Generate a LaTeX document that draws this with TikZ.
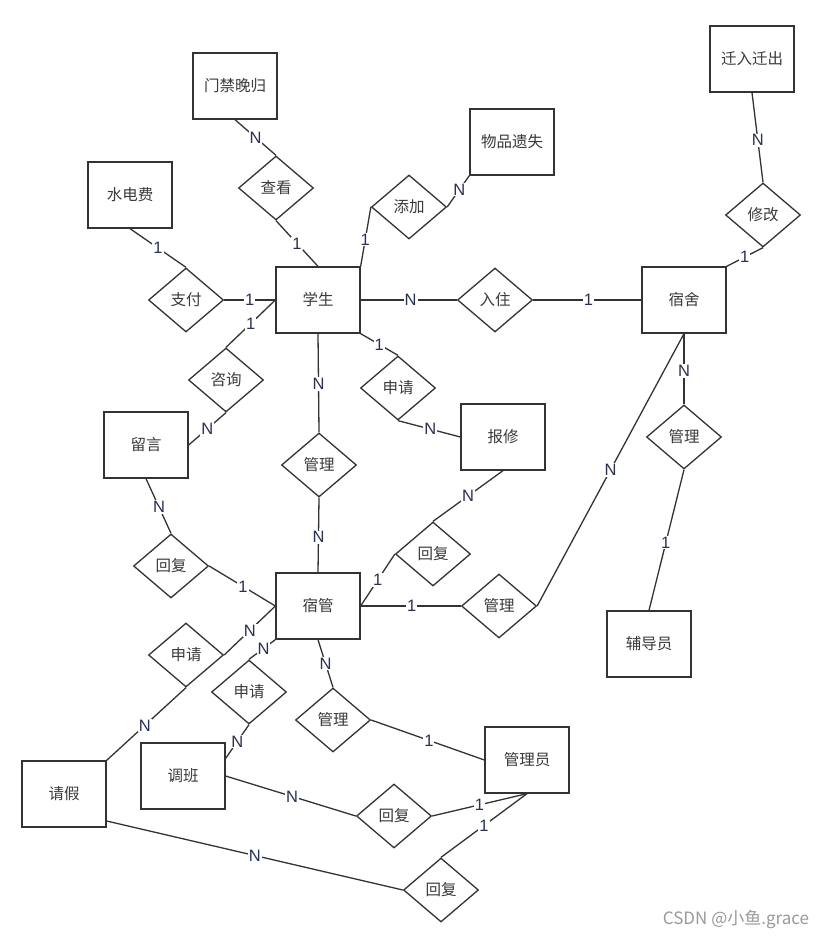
\documentclass[tikz,border=0pt]{standalone}
\usepackage{fontspec}
\setmainfont{Noto Sans CJK SC}
\newfontfamily\latinlbl{Liberation Sans}
\usetikzlibrary{shapes.geometric,calc}
\definecolor{linec}{HTML}{333333}
\definecolor{textc}{HTML}{3A3A3A}
\definecolor{lblc}{HTML}{2A3050}
\definecolor{wmc}{HTML}{9A9A9A}
\begin{document}
\begin{tikzpicture}[x=1pt,y=-1pt,
  ent/.style={rectangle,draw=linec,line width=1.3pt,minimum width=84pt,minimum height=66pt,inner sep=0pt,font=\fontsize{15.5}{17}\selectfont,text=textc},
  rel/.style={diamond,draw=linec,line width=1.3pt,minimum width=75pt,minimum height=64pt,inner sep=0pt,font=\fontsize{15.5}{17}\selectfont,text=textc},
  conn/.style={draw=linec,line width=1.3pt},
  lbl/.style={fill=white,inner sep=1pt,font=\latinlbl\fontsize{16.5}{17}\selectfont,text=lblc}]
\useasboundingbox[fill=white] (0,0) rectangle (825,939);

% entities
\node[ent] (mj) at (235,86) {门禁晚归};
\node[ent] (sdf) at (130,195) {水电费};
\node[ent] (xs) at (318,300) {学生};
\node[ent] (wp) at (512,142) {物品遗失};
\node[ent] (qr) at (752,59) {迁入迁出};
\node[ent] (ss) at (684,300) {宿舍};
\node[ent] (ly) at (146,445) {留言};
\node[ent] (sg) at (318,606) {宿管};
\node[ent] (bx) at (503,437) {报修};
\node[ent] (fdy) at (649,644) {辅导员};
\node[ent] (qj) at (64,794) {请假};
\node[ent] (tb) at (183,776) {调班};
\node[ent] (gly) at (527,760) {管理员};

% relationships
\node[rel] (ck) at (276,188) {查看};
\node[rel] (zf) at (186,300) {支付};
\node[rel] (tj) at (409,207) {添加};
\node[rel] (xg) at (763,215) {修改};
\node[rel] (rz) at (495,300) {入住};
\node[rel] (zx) at (226,380) {咨询};
\node[rel] (gl1) at (319,465) {管理};
\node[rel] (hf1) at (171,566) {回复};
\node[rel] (sq1) at (398,388) {申请};
\node[rel] (gl3) at (684,437) {管理};
\node[rel] (hf2) at (433,554) {回复};
\node[rel] (gl2) at (499,606) {管理};
\node[rel] (sq2) at (186,655) {申请};
\node[rel] (sq3) at (249,692) {申请};
\node[rel] (gl4) at (333,720) {管理};
\node[rel] (hf3) at (394,816) {回复};
\node[rel] (hf4) at (441,890) {回复};

% connectors
\draw[conn] (mj.south) -- node[lbl,pos=0.5] {N} (ck.north);
\draw[conn] (ck.south) -- node[lbl,pos=0.5] {1} (xs.north);
\draw[conn] (sdf.south) -- node[lbl,pos=0.5] {1} (zf.north);
\draw[conn] (zf.east) -- node[lbl,pos=0.5] {1} (xs.west);
\draw[conn] (xs.west) -- node[lbl,pos=0.5] {1} (zx.north);
\draw[conn] (zx.south) -- node[lbl,pos=0.5] {N} (ly.east);
\draw[conn] (xs.north east) -- node[lbl,pos=0.45] {1} (tj.west);
\draw[conn] (tj.east) -- node[lbl,pos=0.55] {N} (wp.south west);
\draw[conn] (xs.east) -- node[lbl,pos=0.52] {N} (rz.west);
\draw[conn] (rz.east) -- node[lbl,pos=0.51] {1} (ss.west);
\draw[conn] (ss.north east) -- node[lbl,pos=0.5] {1} (xg.south);
\draw[conn] (xg.north) -- node[lbl,pos=0.47] {N} (qr.south);
\draw[conn] (xs.south east) -- node[lbl,pos=0.5] {1} (sq1.north);
\draw[conn] (sq1.south) -- node[lbl,pos=0.52] {N} (bx.west);
\draw[conn] (xs.south) -- node[lbl,pos=0.51] {N} (gl1.north);
\draw[conn] (gl1.south) -- node[lbl,pos=0.53] {N} (sg.north);
\draw[conn] (ly.south) -- node[lbl,pos=0.52] {N} (hf1.north);
\draw[conn] (hf1.east) -- node[lbl,pos=0.51] {1} (sg.west);
\draw[conn] (bx.south) -- node[lbl,pos=0.5] {N} (hf2.north);
\draw[conn] (hf2.west) -- node[lbl,pos=0.5] {1} (sg.east);
\draw[conn] (sg.east) -- node[lbl,pos=0.51] {1} (gl2.west);
\draw[conn] (gl2.east) -- node[lbl,pos=0.5] {N} (ss.south);
\draw[conn] (ss.south) -- node[lbl,pos=0.53] {N} (gl3.north);
\draw[conn] (gl3.south) -- node[lbl,pos=0.52] {1} (fdy.north);
\draw[conn] (sg.west) -- node[lbl,pos=0.5] {N} (sq2.east);
\draw[conn] (sq2.south) -- node[lbl,pos=0.52] {N} (qj.north east);
\draw[conn] (sg.south west) -- node[lbl,pos=0.45] {N} (sq3.north);
\draw[conn] (sq3.south) -- node[lbl,pos=0.5] {N} ([yshift=-16pt]tb.north east);
\draw[conn] (sg.south) -- node[lbl,pos=0.5] {N} (gl4.north);
\draw[conn] (gl4.east) -- node[lbl,pos=0.51] {1} (gly.west);
\draw[conn] (tb.east) -- node[lbl,pos=0.51] {N} (hf3.west);
\draw[conn] (hf3.east) -- node[lbl,pos=0.5] {1} (gly.south);
\draw[conn] ([yshift=-27pt]qj.east) -- node[lbl,pos=0.5] {N} (hf4.west);
\draw[conn] (hf4.north) -- node[lbl,pos=0.5] {1} (gly.south);

% watermark
\node[text=wmc,font=\fontsize{17}{19}\selectfont,inner sep=0pt] (wm) at (736,919) {CSDN @小鱼.grace};
\end{tikzpicture}
\end{document}
